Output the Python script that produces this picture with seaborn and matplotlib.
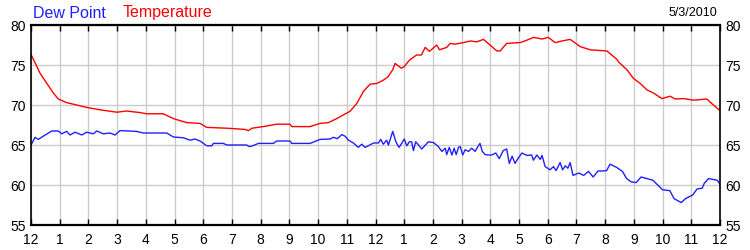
import matplotlib
matplotlib.use("Agg")
import matplotlib.pyplot as plt
import seaborn as sns
import pandas as pd

temp_hours = [0, 0.1, 0.31, 0.55, 0.78, 0.95, 1.24, 1.59, 1.94, 2.4, 2.99, 3.33, 3.8, 4.03,
              4.61, 4.96, 5.42, 5.89, 6.12, 6.82, 7.45, 7.57, 7.7, 8.09, 8.56, 9.02, 9.08, 9.72,
              10.07, 10.36, 10.65, 11.0, 11.11, 11.35, 11.58, 11.81, 12.05, 12.27, 12.43, 12.6,
              12.68, 12.9, 13.0, 13.18, 13.43, 13.6, 13.73, 13.88, 14.13, 14.23, 14.31, 14.48,
              14.6, 14.77, 15.06, 15.3, 15.53, 15.76, 15.99, 16.23, 16.34, 16.57, 17.04, 17.27,
              17.5, 17.8, 18.02, 18.26, 18.49, 18.78, 19.13, 19.48, 20.06, 20.41, 20.46, 20.76,
              20.99, 21.22, 21.45, 21.68, 21.98, 22.26, 22.44, 22.73, 23.08, 23.54, 23.77, 24]
temp_values = [76.3, 75.6, 74.0, 72.7, 71.5, 70.75, 70.3, 70.0, 69.7, 69.4, 69.1, 69.25, 69.05, 68.9,
               68.9, 68.3, 67.8, 67.7, 67.2, 67.1, 66.95, 66.8, 67.1, 67.3, 67.6, 67.6, 67.3, 67.3,
               67.7, 67.8, 68.3, 69.0, 69.2, 70.2, 71.7, 72.6, 72.7, 73.1, 73.5, 74.4,
               75.2, 74.6, 74.8, 75.6, 76.25, 76.25, 77.2, 76.7, 77.5, 76.9, 77.0, 77.2,
               77.7, 77.6, 77.8, 78.0, 77.9, 78.2, 77.5, 76.75, 76.75, 77.7, 77.8, 78.1,
               78.45, 78.25, 78.45, 77.8, 78.0, 78.2, 77.3, 76.9, 76.75, 75.7, 75.4, 74.4,
               73.3, 72.7, 71.9, 71.5, 70.8, 71.1, 70.75, 70.8, 70.6, 70.75, 70.0, 69.3]

dew_hours = [0, 0.14, 0.25, 0.43, 0.72, 0.95, 1.07, 1.24, 1.36, 1.53, 1.77, 1.94, 2.17, 2.29, 2.52,
             2.75, 2.93, 3.1, 3.68, 3.91, 4.73, 4.96, 5.31, 5.54, 5.71, 5.89, 6.12, 6.3, 6.35, 6.7,
             6.82, 7.51, 7.6, 7.72, 7.92, 8.44, 8.56, 9.02, 9.08, 9.72, 10.07, 10.42, 10.53, 10.67,
             10.83, 10.94, 11.06, 11.23, 11.4, 11.52, 11.64, 11.75, 11.93, 12.1, 12.18, 12.27,
             12.39, 12.45, 12.6, 12.71, 12.82, 12.91, 13.0, 13.09, 13.18, 13.26, 13.32, 13.4,
             13.5, 13.61, 13.84, 14.02, 14.19, 14.31, 14.43, 14.48, 14.57, 14.66, 14.74, 14.81,
             14.89, 14.95, 15.04, 15.12, 15.24, 15.35, 15.47, 15.55, 15.64, 15.72, 15.82, 15.93,
             16.05, 16.19, 16.31, 16.45, 16.57, 16.66, 16.76, 16.86, 16.98, 17.1, 17.27, 17.44,
             17.5, 17.62, 17.74, 17.8, 17.91, 18.08, 18.2, 18.29, 18.43, 18.52, 18.61, 18.7,
             18.78, 18.88, 19.08, 19.25, 19.42, 19.58, 19.75, 19.9, 20.05, 20.17, 20.4, 20.6,
             20.75, 20.9, 21.08, 21.25, 21.5, 21.66, 21.83, 22.0, 22.25, 22.4, 22.65, 22.8,
             23.05, 23.2, 23.38, 23.45, 23.6, 23.9, 24]
dew_values = [65.0, 65.96, 65.7, 66.1, 66.75, 66.75, 66.4, 66.7, 66.25, 66.6, 66.25, 66.6, 66.4, 66.75, 66.4,
              66.5, 66.25, 66.8, 66.7, 66.5, 66.5, 66.0, 65.9, 65.6, 65.75, 65.5, 64.9, 64.9, 65.2, 65.2,
              65.0, 65.0, 64.8, 64.9, 65.2, 65.2, 65.5, 65.5, 65.2, 65.2, 65.7, 65.75, 65.96, 65.8,
              66.3, 66.1, 65.6, 65.25, 64.7, 65.1, 64.7, 64.9, 65.25, 65.25, 65.7, 65.1,
              65.6, 65.0, 66.7, 65.4, 64.7, 65.2, 65.75, 64.9, 65.4, 65.4, 64.3, 65.4,
              65.0, 64.5, 65.4, 65.3, 64.8, 64.2, 64.6, 63.8, 64.7, 63.75, 64.6, 63.8,
              64.7, 64.8, 63.75, 64.4, 64.2, 64.6, 64.2, 64.7, 65.2, 64.2, 63.8, 63.75,
              63.75, 64.0, 63.3, 64.3, 64.5, 62.7, 63.6, 62.7, 63.4, 64.0, 63.7, 63.75,
              63.1, 63.75, 63.2, 63.7, 62.3, 61.9, 62.3, 61.8, 62.8, 61.9, 62.4, 62.1,
              62.8, 61.2, 61.5, 61.2, 61.7, 61.0, 61.75, 61.75, 61.8, 62.6, 62.2, 61.7,
              60.8, 60.4, 60.3, 61.0, 60.75, 60.6, 60.0, 59.4, 59.3, 58.3, 57.8, 58.3,
              58.75, 59.5, 59.6, 60.2, 60.8, 60.6, 60.1]

hour_ticks = list(range(0, 25))
hour_labels = ["12", "1", "2", "3", "4", "5", "6", "7", "8", "9", "10", "11",
               "12", "1", "2", "3", "4", "5", "6", "7", "8", "9", "10", "11", "12"]
y_ticks = [55, 60, 65, 70, 75, 80]
series_names = ["Dew Point", "Temperature"]
date_label = "5/3/2010"

sns.set_style("white")
plt.rcParams["font.family"] = ["Liberation Sans", "DejaVu Sans"]

fig = plt.figure(figsize=(7.5, 2.5), dpi=100)
ax = fig.add_axes([31 / 750, 25 / 250, 689 / 750, 200 / 250])

temp_df = pd.DataFrame({"hour": temp_hours, "value": temp_values})
dew_df = pd.DataFrame({"hour": dew_hours, "value": dew_values})

sns.lineplot(data=dew_df, x="hour", y="value", ax=ax, color="#2020ff", linewidth=1.0)
sns.lineplot(data=temp_df, x="hour", y="value", ax=ax, color="#ff0000", linewidth=1.0)

ax.set_xlim(0, 24)
ax.set_ylim(55, 80)
ax.set_xticks(hour_ticks)
ax.set_xticklabels(hour_labels)
ax.set_yticks(y_ticks)
ax.set_xlabel("")
ax.set_ylabel("")
ax.grid(True, color="#cccccc", linewidth=1.0)
ax.set_axisbelow(True)
for s in ax.spines.values():
    s.set_color("black")
    s.set_linewidth(1.2)
ax.spines["top"].set_linewidth(1.6)
ax.spines["bottom"].set_linewidth(1.6)

ax.tick_params(axis="x", direction="in", length=4, width=1, color="black",
               top=True, bottom=True, labelsize=10, pad=6, labelcolor="black")
ax.tick_params(axis="y", length=0, left=True, right=True, labelleft=True, labelright=True,
               labelsize=10, pad=4, labelcolor="black")

fig.text(33 / 750, 1 - 13 / 250, series_names[0], color="#2020ff", fontsize=11.5, va="center", ha="left")
fig.text(123 / 750, 1 - 13 / 250, series_names[1], color="#ff0000", fontsize=11.5, va="center", ha="left")
fig.text(717 / 750, 1 - 13 / 250, date_label, color="black", fontsize=9, va="center", ha="right")

fig.savefig("out.png", dpi=100)
